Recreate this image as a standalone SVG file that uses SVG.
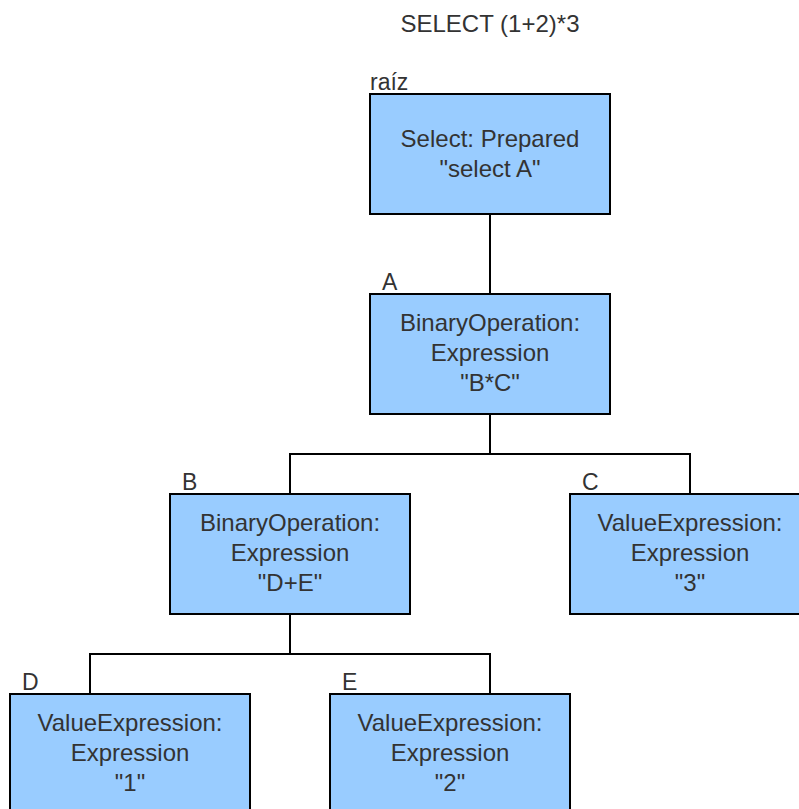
<svg xmlns="http://www.w3.org/2000/svg" width="799" height="809" viewBox="0 0 799 809">
  <style>
    .box { fill: #99CCFF; stroke: #000000; stroke-width: 2; }
    .txt { font-family: "Liberation Sans", Arial, sans-serif; font-size: 24px; fill: #333333; text-anchor: middle; }
    .lbl { font-family: "Liberation Sans", Arial, sans-serif; font-size: 23px; fill: #333333; }
    .edge { fill: none; stroke: #000000; stroke-width: 2; }
  </style>
  <rect width="799" height="809" fill="#ffffff"/>

  <text class="txt" x="490" y="32">SELECT (1+2)*3</text>

  <!-- tree edges -->
  <g id="connectors">
    <path class="edge" d="M490 214 V294"/>
    <path class="edge" d="M490 414 V454 H290 V494"/>
    <path class="edge" d="M490 454 H690 V494"/>
    <path class="edge" d="M290 614 V654 H90 V694"/>
    <path class="edge" d="M290 654 H490 V694"/>
  </g>

  <g id="root">
    <text class="lbl" x="370" y="90">raíz</text>
    <rect class="box" x="370" y="94" width="240" height="120"/>
    <text class="txt" x="490" y="147">Select: Prepared</text>
    <text class="txt" x="490" y="177">"select A"</text>
  </g>

  <g id="nodeA">
    <text class="lbl" x="382" y="290">A</text>
    <rect class="box" x="370" y="294" width="240" height="120"/>
    <text class="txt" x="490" y="331">BinaryOperation:</text>
    <text class="txt" x="490" y="361">Expression</text>
    <text class="txt" x="490" y="391">"B*C"</text>
  </g>

  <g id="nodeB">
    <text class="lbl" x="182" y="490">B</text>
    <rect class="box" x="170" y="494" width="240" height="120"/>
    <text class="txt" x="290" y="531">BinaryOperation:</text>
    <text class="txt" x="290" y="561">Expression</text>
    <text class="txt" x="290" y="591">"D+E"</text>
  </g>

  <g id="nodeC">
    <text class="lbl" x="582" y="490">C</text>
    <rect class="box" x="570" y="494" width="240" height="120"/>
    <text class="txt" x="690" y="531">ValueExpression:</text>
    <text class="txt" x="690" y="561">Expression</text>
    <text class="txt" x="690" y="591">"3"</text>
  </g>

  <g id="nodeD">
    <text class="lbl" x="22" y="690">D</text>
    <rect class="box" x="10" y="694" width="240" height="120"/>
    <text class="txt" x="130" y="731">ValueExpression:</text>
    <text class="txt" x="130" y="761">Expression</text>
    <text class="txt" x="130" y="791">"1"</text>
  </g>

  <g id="nodeE">
    <text class="lbl" x="342" y="690">E</text>
    <rect class="box" x="330" y="694" width="240" height="120"/>
    <text class="txt" x="450" y="731">ValueExpression:</text>
    <text class="txt" x="450" y="761">Expression</text>
    <text class="txt" x="450" y="791">"2"</text>
  </g>
</svg>
